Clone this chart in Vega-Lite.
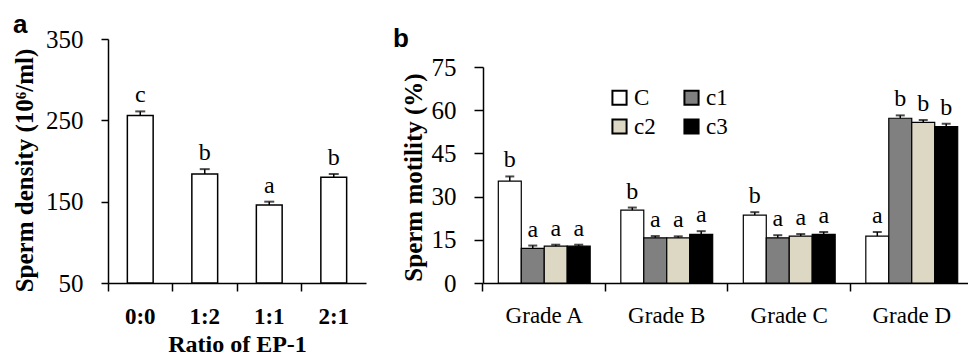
{
  "$schema": "https://vega.github.io/schema/vega-lite/v6.json",
  "padding": {"left": 12, "top": 12, "right": 0, "bottom": 0},
  "spacing": 27,
  "config": {
    "view": {"stroke": null},
    "font": "Liberation Serif",
    "axis": {
      "grid": false,
      "domainColor": "black",
      "tickColor": "black",
      "labelColor": "black",
      "titleColor": "black",
      "labelFont": "Liberation Serif",
      "titleFont": "Liberation Serif",
      "domainWidth": 1.5,
      "tickWidth": 1.5
    }
  },
  "hconcat": [
    {
      "width": 258,
      "height": 244,
      "title": {"text": "a", "anchor": "start", "frame": "group", "dx": -95, "offset": -11, "font": "Liberation Sans", "fontSize": 26, "fontWeight": "bold", "color": "black"},
      "data": {"values": [
        {"ratio": "0:0", "density": 256, "upper": 261, "letter": "c"},
        {"ratio": "1:2", "density": 184, "upper": 190, "letter": "b"},
        {"ratio": "1:1", "density": 146, "upper": 150, "letter": "a"},
        {"ratio": "2:1", "density": 180, "upper": 184, "letter": "b"}
      ]},
      "encoding": {
        "x": {"field": "ratio", "type": "nominal", "sort": null,
          "scale": {"paddingInner": 0.6, "paddingOuter": 0.3},
          "axis": {"title": "Ratio of EP-1", "labelAngle": 0, "labelFontWeight": "bold", "labelFontSize": 23, "titleFontSize": 24, "titleFontWeight": "bold", "tickSize": 8, "bandPosition": -0.75, "labelPadding": 14, "titlePadding": 4}}
      },
      "layer": [
        {
          "mark": {"type": "bar", "fill": "white", "stroke": "black", "strokeWidth": 1.5},
          "encoding": {
            "y": {"field": "density", "type": "quantitative", "scale": {"domain": [50, 350], "zero": false, "nice": false},
              "axis": {"values": [50, 150, 250, 350], "labelFontSize": 25, "tickSize": 7, "labelPadding": 18, "title": "Sperm density (10⁶/ml)", "titleFontSize": 25, "titleFontWeight": "bold", "titlePadding": 8, "titleY": 131}},
            "y2": {"datum": 50}
          }
        },
        {
          "mark": {"type": "rule", "color": "black", "strokeWidth": 1.5},
          "encoding": {"y": {"field": "density", "type": "quantitative", "scale": {"domain": [50, 350], "zero": false, "nice": false}}, "y2": {"field": "upper"}}
        },
        {
          "mark": {"type": "tick", "color": "black", "thickness": 2, "size": 10},
          "encoding": {"y": {"field": "upper", "type": "quantitative", "scale": {"domain": [50, 350], "zero": false, "nice": false}}}
        },
        {
          "mark": {"type": "text", "fontSize": 24, "font": "Liberation Serif", "color": "black", "baseline": "alphabetic", "dy": -9},
          "encoding": {"y": {"field": "upper", "type": "quantitative", "scale": {"domain": [50, 350], "zero": false, "nice": false}}, "text": {"field": "letter"}}
        }
      ]
    },
    {
      "width": 490,
      "height": 244,
      "title": {"text": "b", "anchor": "start", "frame": "group", "dx": -90, "offset": -13, "font": "Liberation Sans", "fontSize": 26, "fontWeight": "bold", "color": "black"},
      "resolve": {"scale": {"fill": "independent"}, "legend": {"fill": "independent"}},
      "data": {"values": [
        {"grade": "Grade A", "group": "C", "motility": 35.4, "upper": 37.0, "letter": "b"},
        {"grade": "Grade A", "group": "c1", "motility": 12.0, "upper": 13.0, "letter": "a"},
        {"grade": "Grade A", "group": "c2", "motility": 12.8, "upper": 13.3, "letter": "a"},
        {"grade": "Grade A", "group": "c3", "motility": 12.8, "upper": 13.3, "letter": "a"},
        {"grade": "Grade B", "group": "C", "motility": 25.3, "upper": 26.2, "letter": "b"},
        {"grade": "Grade B", "group": "c1", "motility": 15.7, "upper": 16.3, "letter": "a"},
        {"grade": "Grade B", "group": "c2", "motility": 15.7, "upper": 16.2, "letter": "a"},
        {"grade": "Grade B", "group": "c3", "motility": 16.9, "upper": 18.0, "letter": "a"},
        {"grade": "Grade C", "group": "C", "motility": 23.6, "upper": 24.6, "letter": "b"},
        {"grade": "Grade C", "group": "c1", "motility": 15.7, "upper": 16.6, "letter": "a"},
        {"grade": "Grade C", "group": "c2", "motility": 16.3, "upper": 17.0, "letter": "a"},
        {"grade": "Grade C", "group": "c3", "motility": 16.9, "upper": 17.7, "letter": "a"},
        {"grade": "Grade D", "group": "C", "motility": 16.3, "upper": 17.7, "letter": "a"},
        {"grade": "Grade D", "group": "c1", "motility": 57.2, "upper": 58.2, "letter": "b"},
        {"grade": "Grade D", "group": "c2", "motility": 55.8, "upper": 56.6, "letter": "b"},
        {"grade": "Grade D", "group": "c3", "motility": 54.3, "upper": 55.3, "letter": "b"}
      ]},
      "encoding": {
        "x": {"field": "grade", "type": "nominal", "sort": null,
          "scale": {"paddingInner": 0.25, "paddingOuter": 0.125},
          "axis": {"title": null, "labelAngle": 0, "labelFontSize": 23, "tickSize": 8, "bandPosition": -0.1667, "labelPadding": 13}},
        "xOffset": {"field": "group", "type": "nominal", "sort": ["C", "c1", "c2", "c3"], "scale": {"paddingInner": 0, "paddingOuter": 0}}
      },
      "layer": [
        {
          "mark": {"type": "bar", "stroke": "black", "strokeWidth": 1.2},
          "encoding": {
            "y": {"field": "motility", "type": "quantitative", "scale": {"domain": [0, 75], "nice": false, "range": [244, 28]},
              "axis": {"values": [0, 15, 30, 45, 60, 75], "labelFontSize": 25, "tickSize": 9, "labelPadding": 18, "title": "Sperm motility (%)", "titleFontSize": 25, "titleFontWeight": "bold", "titlePadding": 5, "titleY": 138}},
            "fill": {"field": "group", "type": "nominal", "sort": ["C", "c1", "c2", "c3"],
              "scale": {"domain": ["C", "c1", "c2", "c3"], "range": ["#ffffff", "#808080", "#ddd8c3", "#000000"]},
              "legend": {"orient": "none", "legendX": 125, "legendY": 47, "direction": "horizontal", "columns": 2, "title": null, "symbolType": "square", "symbolSize": 200, "symbolStrokeColor": "black", "symbolStrokeWidth": 2, "labelFont": "Liberation Serif", "labelFontSize": 23, "labelColor": "black", "columnPadding": 24, "rowPadding": 5, "labelOffset": 3}}
          }
        },
        {
          "mark": {"type": "rule", "color": "black", "strokeWidth": 1.5},
          "encoding": {"y": {"field": "motility", "type": "quantitative", "scale": {"domain": [0, 75], "nice": false, "range": [244, 28]}}, "y2": {"field": "upper"}}
        },
        {
          "mark": {"type": "tick", "color": "black", "thickness": 2, "size": 9},
          "encoding": {"y": {"field": "upper", "type": "quantitative", "scale": {"domain": [0, 75], "nice": false, "range": [244, 28]}}}
        },
        {
          "mark": {"type": "text", "fontSize": 24, "font": "Liberation Serif", "color": "black", "baseline": "alphabetic", "dy": -9},
          "encoding": {"y": {"field": "upper", "type": "quantitative", "scale": {"domain": [0, 75], "nice": false, "range": [244, 28]}}, "text": {"field": "letter"}}
        }
      ]
    }
  ]
}
